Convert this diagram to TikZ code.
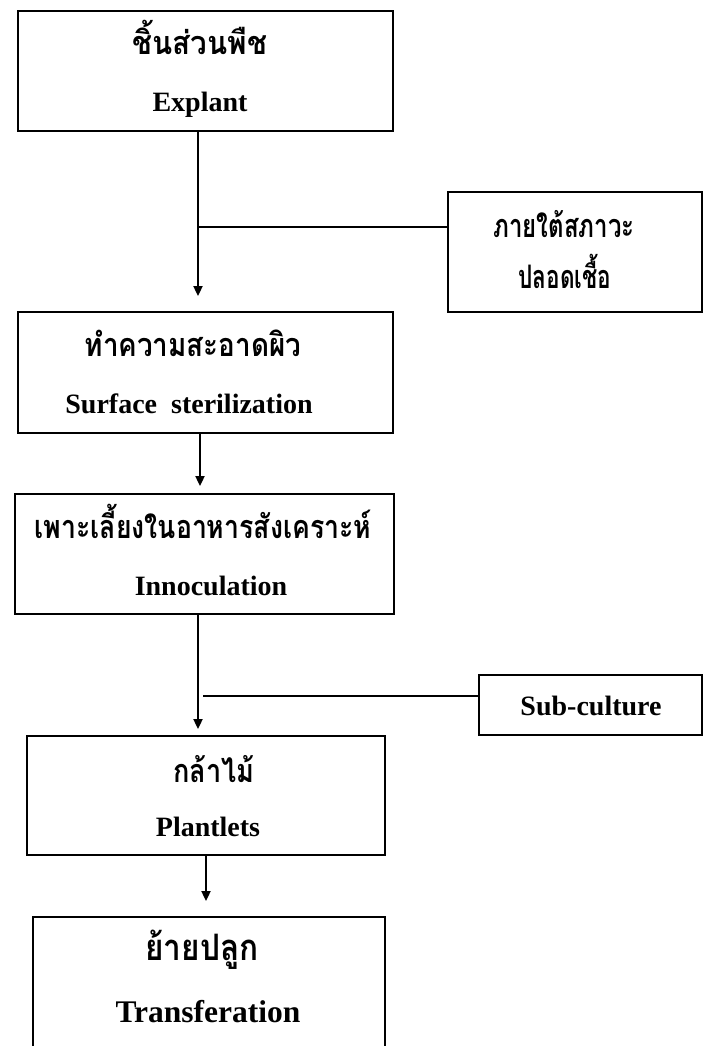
\documentclass[tikz,border=0pt]{standalone}
\usepackage{fontspec}
\setmainfont{Liberation Serif}
\newfontfamily\thaifont[Script=Thai]{Loma}
\usetikzlibrary{arrows.meta}
% Thai labels: Loma, stretched to a tall, narrow looped face
\newcommand\thlabel[2]{\scalebox{#1}[1.35]{#2}}
\begin{document}
\begin{tikzpicture}[x=1pt,y=-1pt,
  box/.style={draw,line width=1.8pt,inner sep=0pt},
  thtxt/.style={anchor=base,inner sep=0pt,font=\thaifont\bfseries\fontsize{24}{28}\selectfont},
  entxt/.style={anchor=base,inner sep=0pt,font=\bfseries\fontsize{28}{32}\selectfont},
  link/.style={line width=1.8pt},
  flow/.style={line width=1.8pt,-{Triangle[length=10pt,width=9pt]}}]
\useasboundingbox (0,0) rectangle (716,1046);

% main process boxes (the last one runs past the lower page edge)
\node[box,minimum width=375pt,minimum height=120pt] (explant) at (205.5,71) {};
\node[box,minimum width=375pt,minimum height=121pt] (surface) at (205.5,372.5) {};
\node[box,minimum width=379pt,minimum height=120pt] (inoc) at (204.5,554) {};
\node[box,minimum width=358pt,minimum height=119pt] (plantlet) at (206,795.5) {};
\node[box,minimum width=352pt,minimum height=140pt] (transfer) at (209,987) {};

% side boxes
\node[box,minimum width=254pt,minimum height=120pt] (aseptic) at (575,252) {};
\node[box,minimum width=223pt,minimum height=60pt] (subcult) at (590.5,705) {};

% labels
\node[thtxt] (explantTh) at (200,55) {\thlabel{1.23}{ชิ้นส่วนพืช}};
\node[entxt] (explantEn) at (200,112) {Explant};
\node[thtxt] (surfaceTh) at (193,356) {\thlabel{1.16}{ทำความสะอาดผิว}};
\node[entxt] (surfaceEn) at (189,413) {Surface\ \ sterilization};
\node[thtxt] (inocTh) at (203,538) {\thlabel{1.11}{เพาะเลี้ยงในอาหารสังเคราะห์}};
\node[entxt] (inocEn) at (211,595) {Innoculation};
\node[thtxt] (plantletTh) at (214,782) {\thlabel{1.13}{กล้าไม้}};
\node[entxt] (plantletEn) at (208,836) {Plantlets};
\node[thtxt,font=\thaifont\bfseries\fontsize{27}{32}\selectfont] (transferTh) at (202,960) {\thlabel{1.17}{ย้ายปลูก}};
\node[entxt,font=\bfseries\fontsize{31.5}{36}\selectfont] (transferEn) at (208,1022) {Transferation};
\node[thtxt] (asepticA) at (564,237) {\thlabel{1.0}{ภายใต้สภาวะ}};
\node[thtxt] (asepticB) at (565,288) {\thlabel{0.94}{ปลอดเชื้อ}};
\node[entxt] (subcultEn) at (591,715) {Sub-culture};

% connector columns and junctions
\coordinate (c1) at (198,0);
\coordinate (c2) at (200,0);
\coordinate (c3) at (198,0);
\coordinate (c4) at (206,0);
\coordinate (j1) at (198,227);
\coordinate (j2) at (203,696);

\draw[flow,shorten >=15pt] (c1 |- explant.south) -- (c1 |- surface.north);
\draw[link] (j1) -- (j1 -| aseptic.west);
\draw[flow,shorten >=7pt] (c2 |- surface.south) -- (c2 |- inoc.north);
\draw[flow,shorten >=6pt] (c3 |- inoc.south) -- (c3 |- plantlet.north);
\draw[link] (j2) -- (j2 -| subcult.west);
\draw[flow,shorten >=15pt] (c4 |- plantlet.south) -- (c4 |- transfer.north);
\end{tikzpicture}
\end{document}
